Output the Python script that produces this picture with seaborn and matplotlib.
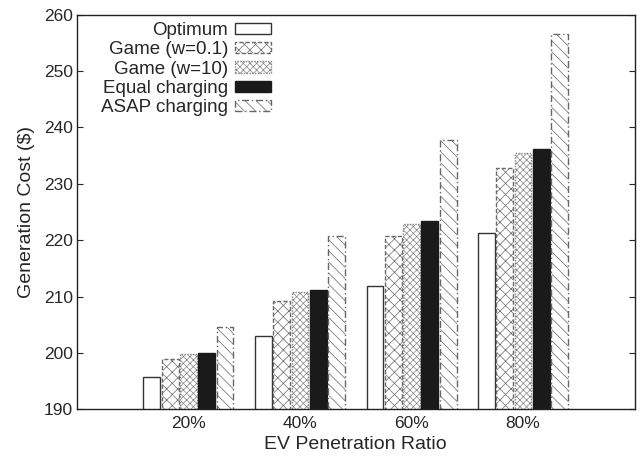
import matplotlib
matplotlib.use("Agg")
import matplotlib.pyplot as plt
from matplotlib.patches import Patch
import seaborn as sns
import pandas as pd

sns.set_style("ticks")
plt.rcParams["font.family"] = ["Liberation Sans", "DejaVu Sans"]
plt.rcParams["hatch.linewidth"] = 0.5

ratios = ["20%", "40%", "60%", "80%"]
methods = ["Optimum", "Game (w=0.1)", "Game (w=10)", "Equal charging", "ASAP charging"]
optimum = [195.7, 203.1, 211.9, 221.3]
game_w01 = [199.0, 209.3, 220.7, 232.8]
game_w10 = [199.8, 210.9, 222.9, 235.5]
equal_charging = [200.0, 211.2, 223.4, 236.2]
asap_charging = [204.7, 220.7, 237.8, 256.6]

series = [optimum, game_w01, game_w10, equal_charging, asap_charging]
df = pd.DataFrame(
    [(r, m, v) for m, vals in zip(methods, series) for r, v in zip(ratios, vals)],
    columns=["ratio", "method", "cost"],
)

styles = {
    "Optimum": dict(fc="white", ec="#333333", hatch=None, ls="-"),
    "Game (w=0.1)": dict(fc="white", ec="#6a6a6a", hatch="xxx", ls=(0, (3, 1.5))),
    "Game (w=10)": dict(fc="white", ec="#858585", hatch="xxxxx", ls=(0, (1, 1))),
    "Equal charging": dict(fc="#1a1a1a", ec="#1a1a1a", hatch=None, ls="-"),
    "ASAP charging": dict(fc="white", ec="#666666", hatch="\\\\\\", ls=(0, (5, 2, 1, 2))),
}

fig, ax = plt.subplots(figsize=(6.41, 4.59), dpi=100)
fig.subplots_adjust(left=0.12, right=0.99, top=0.968, bottom=0.108)

sns.barplot(data=df, x="ratio", y="cost", hue="method", order=ratios,
            hue_order=methods, width=0.82, gap=0.08, ax=ax, legend=False)

for container, m in zip(ax.containers, methods):
    st = styles[m]
    for bar in container:
        bar.set_facecolor(st["fc"])
        bar.set_edgecolor(st["ec"])
        bar.set_linewidth(1.0)
        bar.set_linestyle(st["ls"])
        if st["hatch"]:
            bar.set_hatch(st["hatch"])

ax.set_ylim(190, 260)
ax.set_xlim(-1, 4)
ax.set_yticks(range(190, 261, 10))
ax.tick_params(axis="y", direction="in", right=True, length=4, labelsize=12.5, pad=3)
ax.tick_params(axis="x", length=0, labelsize=12.5, pad=5)
for s in ax.spines.values():
    s.set_visible(True)
    s.set_linewidth(1.0)
    s.set_color("#222222")
ax.set_xlabel("EV Penetration Ratio", fontsize=14, labelpad=3)
ax.set_ylabel("Generation Cost ($)", fontsize=14, labelpad=6)

handles = []
for m in methods:
    st = styles[m]
    handles.append(Patch(facecolor=st["fc"], edgecolor=st["ec"], hatch=st["hatch"],
                         linestyle=st["ls"], linewidth=1.0, label=m))
ax.legend(handles=handles, loc="upper left", bbox_to_anchor=(0.030, 1.0),
          frameon=False, markerfirst=False, fontsize=13.5, handlelength=1.95,
          handleheight=0.55, labelspacing=0.12, handletextpad=0.35, borderaxespad=0.0)

fig.savefig("out.png", dpi=100)
